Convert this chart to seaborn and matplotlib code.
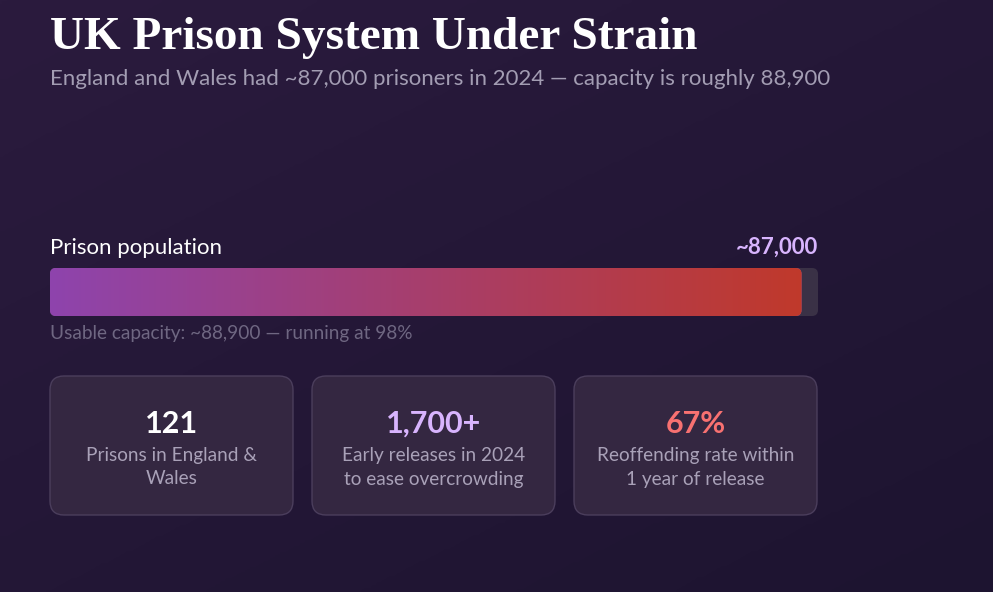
import numpy as np
import pandas as pd
import matplotlib
matplotlib.use('Agg')
import matplotlib.pyplot as plt
import seaborn as sns
from matplotlib.patches import FancyBboxPatch
from matplotlib.colors import LinearSegmentedColormap, to_rgb

# ── Data ──────────────────────────────────────────────────────────────────────
TITLE = 'UK Prison System Under Strain'
SUBTITLE = 'England and Wales had ~87,000 prisoners in 2024 — capacity is roughly 88,900'
POPULATION = 87000
CAPACITY = 88900
BAR_LABEL = 'Prison population'
BAR_VALUE = '~87,000'
CAPTION = 'Usable capacity: ~88,900 — running at 98%'

STAT_VALUES = ['121', '1,700+', '67%']
STAT_LABELS = ['Prisons in England &\nWales',
               'Early releases in 2024\nto ease overcrowding',
               'Reoffending rate within\n1 year of release']
STAT_COLORS = ['#ffffff', '#d8b4fe', '#f87171']

W, H = 993, 592
SANS = ['Lato', 'DejaVu Sans']
SERIF = ['Liberation Serif', 'DejaVu Serif']

sns.set_theme(style='white')
plt.rcParams['font.family'] = SANS

fig = plt.figure(figsize=(W / 100, H / 100), dpi=100)

# ── Background (pixel coordinates) ────────────────────────────────────────────
bg = fig.add_axes([0, 0, 1, 1])
bg.set_xlim(0, W)
bg.set_ylim(H, 0)
bg.axis('off')
yy, xx = np.mgrid[0:1:200j, 0:1:200j]
grad = (xx * 0.45 + yy * 0.55)
bg_cmap = LinearSegmentedColormap.from_list('bg', ['#2b1b3e', '#1d1430'])
bg.imshow(grad, cmap=bg_cmap, extent=(0, W, H, 0), aspect='auto',
          interpolation='bilinear', zorder=0)

# ── Header ────────────────────────────────────────────────────────────────────
bg.text(50, 49, TITLE, family=SERIF, fontweight='bold', fontsize=34,
        color='white', va='baseline', ha='left')
bg.text(50, 85, SUBTITLE, fontsize=16, color='#a39db3', va='baseline', ha='left')

# ── Bar labels ────────────────────────────────────────────────────────────────
bg.text(50, 254, BAR_LABEL, fontsize=16, color='white', va='baseline', ha='left')
bg.text(818, 254, BAR_VALUE, fontsize=16, fontweight='bold', color='#d8b4fe',
        va='baseline', ha='right')
bg.text(50, 339, CAPTION, fontsize=13.7, color='#6f6782', va='baseline', ha='left')

# ── Capacity bar ──────────────────────────────────────────────────────────────
bx0, bx1, by0, by1 = 50, 818, 268, 316
bar_ax = fig.add_axes([bx0 / W, 1 - by1 / H, (bx1 - bx0) / W, (by1 - by0) / H])
bar_df = pd.DataFrame({'row': ['pop'], 'capacity': [CAPACITY], 'population': [POPULATION]})
sns.barplot(data=bar_df, x='capacity', y='row', orient='h', width=1,
            color='#3a2d4a', ax=bar_ax)
sns.barplot(data=bar_df, x='population', y='row', orient='h', width=1,
            color='#8e44ad', ax=bar_ax)
bar_ax.set_xlim(0, CAPACITY)
bar_ax.set_ylim(-0.5, 0.5)
bar_ax.axis('off')

radius_px = 6
rx = radius_px * CAPACITY / (bx1 - bx0)
ry = radius_px / (by1 - by0)
rounded = []
for p in list(bar_ax.patches):
    x, y, w, h = p.get_x(), p.get_y(), p.get_width(), p.get_height()
    p.set_visible(False)
    fb = FancyBboxPatch((x, y), w, h, boxstyle=f'round,pad=0,rounding_size={rx}',
                        mutation_aspect=ry / rx, facecolor=p.get_facecolor(),
                        edgecolor='none', zorder=2)
    bar_ax.add_patch(fb)
    rounded.append(fb)

# gradient fill, clipped to the population bar
fill_patch = rounded[-1]
c0, c1 = np.array(to_rgb('#8e44ad')), np.array(to_rgb('#c0392b'))
t = np.linspace(0, 1, 800)[:, None]
row = c0 + (c1 - c0) * t
rgb = np.repeat(row[None, :, :], 4, axis=0)
img = bar_ax.imshow(rgb, extent=(0, POPULATION, -0.5, 0.5), aspect='auto',
                    interpolation='bilinear', zorder=3)
img.set_clip_path(fill_patch)
bar_ax.set_xlim(0, CAPACITY)
bar_ax.set_ylim(-0.5, 0.5)

# ── Stat cards ────────────────────────────────────────────────────────────────
card_w, card_gap, cy0, cy1 = 243, 19, 376, 515
for i, (val, lab, col) in enumerate(zip(STAT_VALUES, STAT_LABELS, STAT_COLORS)):
    cx0 = 50 + i * (card_w + card_gap)
    card = FancyBboxPatch((cx0, cy0), card_w, cy1 - cy0,
                          boxstyle='round,pad=0,rounding_size=14',
                          facecolor='#342741', edgecolor='#4b3e5c', linewidth=1, zorder=2)
    bg.add_patch(card)
    cx = cx0 + card_w / 2
    bg.text(cx, 433, val, fontsize=22, fontweight='bold', color=col,
            ha='center', va='baseline', zorder=3)
    for j, line in enumerate(lab.split('\n')):
        bg.text(cx, 455 + 24 * j, line, fontsize=13.7, color='#a9a1b8',
                ha='center', va='center', zorder=3)

fig.savefig('out.png', dpi=100, facecolor='#241838')
